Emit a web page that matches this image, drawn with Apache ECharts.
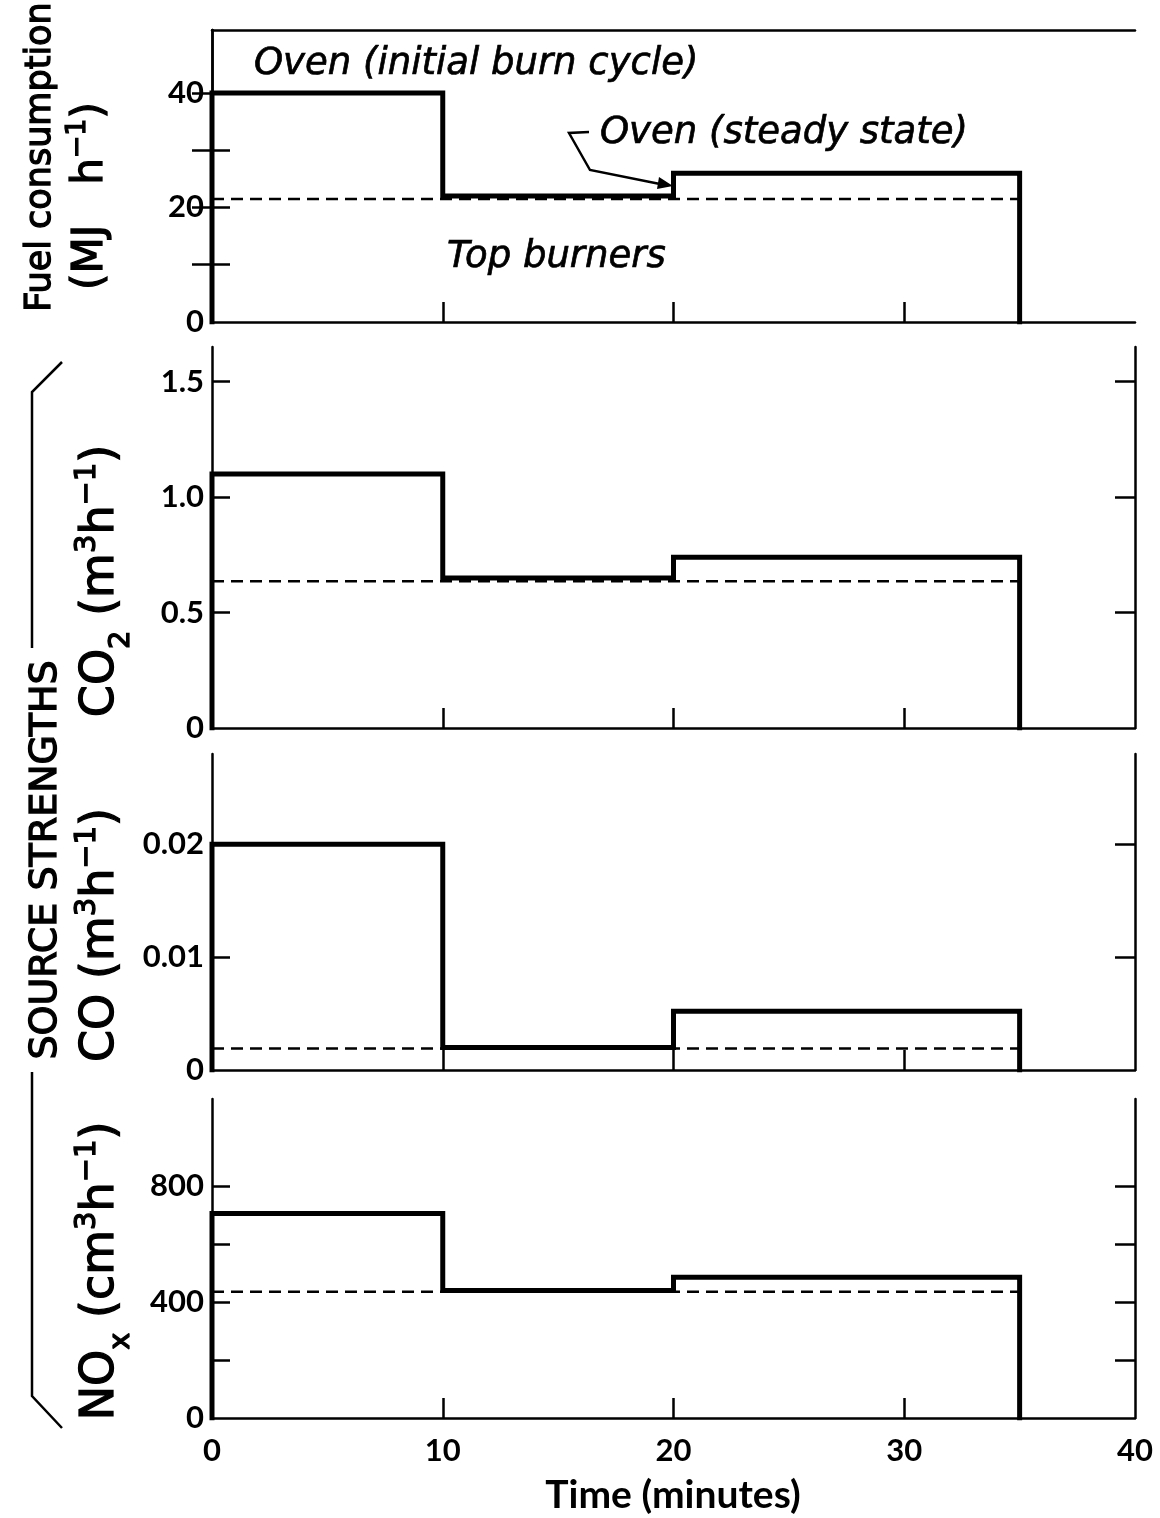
<!DOCTYPE html>
<html>
<head>
<meta charset="utf-8">
<script src="https://cdn.jsdelivr.net/npm/echarts@6/dist/echarts.min.js"></script>
<style>
html, body { margin: 0; padding: 0; background: #fff; }
#chart { width: 1160px; height: 1518px; }
</style>
</head>
<body>
<div id="chart"></div>
<script>
// ---------------------------------------------------------
// data
var stepTimes = [0, 10, 20, 35];          // minutes where the oven changes state
var xLabels = [0, 10, 20, 30, 40];
var xTicks = [10, 20, 30];

// oven level in each interval, and the steady top burner level
var fuelOven = [40, 22, 26];
var fuelTop = 21.5;
var co2Oven = [1.1, 0.65, 0.74];
var co2Top = 0.635;
var coOven = [0.02, 0.002, 0.0052];
var coTop = 0.0019;
var noxOven = [705, 440, 485];
var noxTop = 435;

// y axes, one per panel
var yMax = [51, 1.65, 0.028, 1100];
var yTicks = [[10, 20, 30, 40], [0.5, 1, 1.5], [0.01, 0.02], [200, 400, 600, 800]];
var yLabels = [[0, 20, 40], [0, 0.5, 1, 1.5], [0, 0.01, 0.02], [0, 400, 800]];

// ---------------------------------------------------------
var FONT = 'Lato';
var TEXT_FONT = 'DejaVu Sans';
var INK = '#000';

var panelTop = [30, 347, 754, 1099];
var panelHeight = [292, 381, 316, 319];

function stepLine(levels) {
    var pts = [[stepTimes[0], 0]];
    levels.forEach(function (v, i) { pts.push([stepTimes[i], v]); });
    pts.push([stepTimes[stepTimes.length - 1], 0]);
    return pts;
}

function flatLine(v) {
    return [[stepTimes[0], v], [stepTimes[stepTimes.length - 1], v]];
}

function yFmt(v) {
    if (v === 0) return '0';
    if (v === 1) return '1.0';
    return String(v);
}

var ovens = [fuelOven, co2Oven, coOven, noxOven];
var tops = [fuelTop, co2Top, coTop, noxTop];

var grids = [], xAxes = [], yAxes = [], series = [];

for (var i = 0; i < 4; i++) {
    grids.push({ left: 212, width: 923, top: panelTop[i], height: panelHeight[i], outerBoundsMode: 'none' });

    xAxes.push({
        type: 'value', gridIndex: i, min: 0, max: 40,
        axisLine: { show: true, onZero: false, lineStyle: { color: INK, width: 2.5 } },
        axisTick: { show: true, inside: true, length: 20, customValues: xTicks, lineStyle: { color: INK, width: 2.5 } },
        axisLabel: {
            show: i === 3, customValues: xLabels, margin: 17,
            color: INK, fontFamily: FONT, fontWeight: 'bold', fontSize: 31
        },
        splitLine: { show: false }
    });

    // left axis with labels
    yAxes.push({
        type: 'value', gridIndex: i, min: 0, max: yMax[i], position: 'left',
        axisLine: { show: true, lineStyle: { color: INK, width: 2.5 } },
        axisTick: { show: true, inside: true, length: 18, customValues: yTicks[i], lineStyle: { color: INK, width: 2.5 } },
        axisLabel: {
            customValues: yLabels[i], formatter: yFmt, margin: 8,
            color: INK, fontFamily: FONT, fontWeight: 'bold', fontSize: 31
        },
        splitLine: { show: false }
    });
    // right axis, ticks only
    yAxes.push({
        type: 'value', gridIndex: i, min: 0, max: yMax[i], position: 'right',
        axisLine: { show: true, lineStyle: { color: INK, width: 2.5 } },
        axisTick: { show: true, inside: true, length: 20, customValues: yTicks[i], lineStyle: { color: INK, width: 2.5 } },
        axisLabel: { show: false },
        splitLine: { show: false }
    });

    series.push({
        type: 'line', xAxisIndex: i, yAxisIndex: i * 2, step: 'end',
        data: stepLine(ovens[i]), symbol: 'none', silent: true, z: 5,
        lineStyle: { color: INK, width: 5, join: 'miter', cap: 'square' }
    });
    series.push({
        type: 'line', xAxisIndex: i, yAxisIndex: i * 2,
        data: flatLine(tops[i]), symbol: 'none', silent: true, z: 4,
        lineStyle: { color: INK, width: 2.5, type: [12, 7] }
    });
}

// top border of the fuel panel
xAxes.push({
    type: 'value', gridIndex: 0, min: 0, max: 40, position: 'top',
    axisLine: { show: true, onZero: false, lineStyle: { color: INK, width: 2.5 } },
    axisTick: { show: false }, axisLabel: { show: false }, splitLine: { show: false }
});

// ---------------------------------------------------------
// axis titles and notes
var HEAVY = 1.3;   // outline to thicken the regular face a little

function richFor(size) {
    var small = Math.round(size * 0.64);
    var lift = Math.round(size * 0.24);
    var common = { fontFamily: TEXT_FONT, fill: INK, stroke: INK, lineWidth: HEAVY, verticalAlign: 'bottom' };
    return {
        b: Object.assign({ fontSize: size, padding: [0, 0, lift, 0] }, common),
        sup: Object.assign({ fontSize: small, padding: [0, 0, lift + Math.round(size * 0.5), 0] }, common),
        sub: Object.assign({ fontSize: small, padding: [0, 0, 0, 0] }, common)
    };
}

function vText(x, y, text, size, rich) {
    var s = {
        text: text, x: 0, y: 0, fill: INK,
        font: size + 'px "' + TEXT_FONT + '"',
        align: 'center', verticalAlign: 'middle'
    };
    if (rich) {
        s.rich = richFor(size);
    } else {
        s.stroke = INK;
        s.lineWidth = HEAVY;
    }
    return { type: 'text', x: x, y: y, rotation: Math.PI / 2, style: s, z: 10 };
}

function note(x, y, text) {
    return {
        type: 'text', x: x, y: y, z: 10,
        style: {
            text: text, fill: INK, stroke: INK, lineWidth: 0.7,
            font: 'italic 37px "' + TEXT_FONT + '"', align: 'left', verticalAlign: 'middle'
        }
    };
}

var graphics = [
    vText(41, 157, 'Fuel consumption', 35),
    vText(93, 196, '{b|(MJ   h}{sup|−1}{b|)}', 42, true),
    vText(104, 581, '{b|CO}{sub|2}{b| (m}{sup|3}{b|h}{sup|−1}{b|)}', 46, true),
    vText(104, 935, '{b|CO (m}{sup|3}{b|h}{sup|−1}{b|)}', 46, true),
    vText(104, 1271, '{b|NO}{sub|x}{b| (cm}{sup|3}{b|h}{sup|−1}{b|)}', 46, true),
    vText(46, 860, 'SOURCE STRENGTHS', 38),
    {
        type: 'text', x: 673, y: 1495, z: 10,
        style: { text: 'Time (minutes)', fill: INK, font: 'bold 39px ' + FONT, align: 'center', verticalAlign: 'middle' }
    },
    {
        type: 'polyline', z: 10,
        shape: { points: [[62, 362], [32, 392], [32, 648]] },
        style: { stroke: INK, lineWidth: 2.5, fill: null }
    },
    {
        type: 'polyline', z: 10,
        shape: { points: [[32, 1072], [32, 1396], [62, 1428]] },
        style: { stroke: INK, lineWidth: 2.5, fill: null }
    },
    note(254, 64, 'Oven (initial burn cycle)'),
    note(600, 133, 'Oven (steady state)'),
    note(447, 257, 'Top burners'),
    {
        type: 'polyline', z: 10,
        shape: { points: [[589, 132], [569, 133], [590, 170], [660, 184]] },
        style: { stroke: INK, lineWidth: 2.5, fill: null }
    },
    {
        type: 'polygon', z: 10,
        shape: { points: [[673, 186], [659, 177], [657, 189]] },
        style: { fill: INK }
    }
];

var chart = echarts.init(document.getElementById('chart'));
chart.setOption({
    animation: false,
    backgroundColor: '#fff',
    grid: grids,
    xAxis: xAxes,
    yAxis: yAxes,
    series: series,
    graphic: graphics
});
</script>
</body>
</html>
